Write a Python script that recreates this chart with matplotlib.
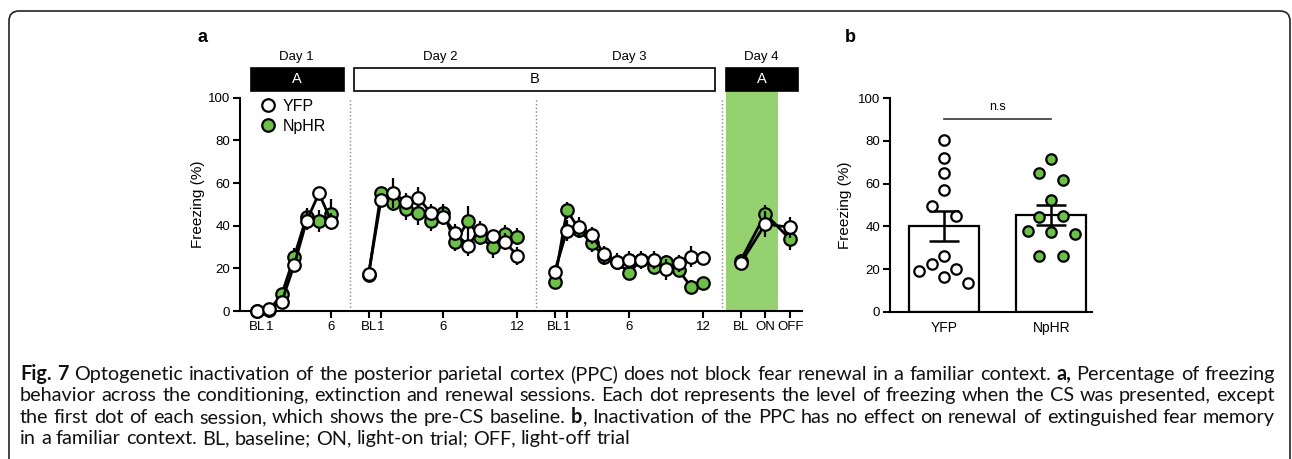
import numpy as np
import matplotlib
matplotlib.use('Agg')
import matplotlib.pyplot as plt
import matplotlib.transforms as mtransforms
from matplotlib import font_manager
from matplotlib.patches import Rectangle, FancyBboxPatch
from matplotlib.lines import Line2D

# ── Data: panel a (mean freezing % and SEM per trial, per session) ─────
session_names = ['Day 1', 'Day 2', 'Day 3', 'Day 4']
session_x = [np.arange(0, 7), np.arange(9, 22), np.arange(24, 37), np.array([39, 41, 43])]

yfp_mean = [
    [0, 0.8, 4.4, 21.6, 42.2, 55.2, 41.9],
    [17.3, 52, 55.2, 51.3, 53.1, 46.1, 44.2, 36.7, 30.6, 38, 35.2, 32.5, 25.8],
    [18.4, 37.7, 39.2, 35.6, 26.7, 23.1, 23.9, 23.9, 23.9, 19.5, 22.3, 25.5, 25],
    [22.3, 40.8, 39.2],
]
yfp_sem = [
    [0, 0.5, 1.5, 3, 4, 3, 4],
    [1, 2, 7, 4, 5, 4, 4, 4, 5, 4, 3, 4, 4],
    [3, 5, 5, 4, 4, 4, 4, 4, 4, 5, 4, 5, 3],
    [3, 6, 5],
]
nphr_mean = [
    [0, 0.5, 7.8, 25.5, 44.2, 42.2, 45.5],
    [16.9, 55.2, 50.8, 47.7, 46.1, 42.3, 46.1, 32.2, 42, 34.8, 29.8, 36.1, 34.8],
    [13.8, 47.3, 38, 31.7, 25.5, 23.1, 18, 23.9, 20.5, 23.1, 19.2, 11.4, 13.3],
    [23.6, 45.5, 33.6],
]
nphr_sem = [
    [0, 0.5, 2, 4, 4, 5, 7],
    [1, 3, 4, 5, 6, 5, 4, 4, 7, 4, 5, 4, 4],
    [2, 4, 4, 4, 4, 3, 3, 3, 3, 3, 3, 3, 2],
    [3, 4, 5],
]
tick_pos = [0, 1, 6, 9, 10, 15, 21, 24, 25, 30, 36, 39, 41, 43]
tick_labels = ['BL', '1', '6', 'BL', '1', '6', '12', 'BL', '1', '6', '12', 'BL', 'ON', 'OFF']

# ── Data: panel b (renewal, individual animals) ───────────────────────
groups = ['YFP', 'NpHR']
yfp_points = [80.5, 71.9, 64.8, 57.0, 49.7, 45.0, 26.3, 22.2, 19.2, 19.8, 16.1, 13.3]
nphr_points = [71.4, 64.8, 61.7, 52.3, 44.5, 45.0, 38.0, 37.5, 36.4, 26.0, 26.0]
group_mean = [40.3, 45.2]
group_sem = [7.0, 4.8]

# horizontal jitter of the dots (layout only)
yfp_jitter = [0, 0, 0, 0, -0.11, 0.11, 0, -0.11, -0.23, 0.11, 0, 0.22]
nphr_jitter = [0, -0.11, 0.11, 0, -0.11, 0.11, -0.22, 0, 0.22, -0.11, 0.11]

caption = [
    "**Fig. 7** Optogenetic inactivation of the posterior parietal cortex (PPC) does not block fear renewal in a familiar context. **a,** Percentage of freezing",
    "behavior across the conditioning, extinction and renewal sessions. Each dot represents the level of freezing when the CS was presented, except",
    "the first dot of each session, which shows the pre-CS baseline. **b**, Inactivation of the PPC has no effect on renewal of extinguished fear memory",
    "in a familiar context. BL, baseline; ON, light-on trial; OFF, light-off trial",
]

# ── Style ─────────────────────────────────────────────────────────────
GREEN = '#6cbf47'
BAND = '#95d26f'
plt.rcParams['font.family'] = ['Liberation Sans', 'DejaVu Sans']
avail = {f.name for f in font_manager.fontManager.ttflist}
CAP_FONT = 'DejaVu Sans'
for name in ['Lato', 'Open Sans', 'Liberation Sans Narrow', 'Roboto']:
    if name in avail:
        CAP_FONT = name
        break

W, H = 1292, 459
fig = plt.figure(figsize=(W / 100, H / 100), dpi=100)

# background axes in pixel units: frame + caption
bg = fig.add_axes([0, 0, 1, 1], zorder=-1)
bg.set_xlim(0, W)
bg.set_ylim(H, 0)
bg.axis('off')
bg.add_patch(FancyBboxPatch((9, 11), 1281, 480, boxstyle='round,pad=0,rounding_size=10',
                            fc='none', ec='#222222', lw=1.2, clip_on=False))

# ── Panel a ───────────────────────────────────────────────────────────
ax = fig.add_axes([240 / W, 1 - 311 / H, 561.7 / W, 213.3 / H])
trans = mtransforms.blended_transform_factory(ax.transData, ax.transAxes)

ax.add_patch(Rectangle((37.85, 0), 42.0 - 37.85, 1.031, transform=trans, fc=BAND, lw=0,
                       zorder=0, clip_on=False))
for xs in [7.5, 22.5, 37.5]:
    ax.axvline(xs, color='#888888', ls=':', lw=1, zorder=1)

for xs, m, s in zip(session_x, nphr_mean, nphr_sem):
    ax.errorbar(xs, m, yerr=s, fmt='none', ecolor='black', elinewidth=1.6, zorder=2, clip_on=False)
    ax.plot(xs, m, '-', color='black', lw=2, zorder=3)
    ax.plot(xs, m, 'o', ms=9, mfc=GREEN, mec='black', mew=1.6, zorder=4, clip_on=False)
for xs, m, s in zip(session_x, yfp_mean, yfp_sem):
    ax.errorbar(xs, m, yerr=s, fmt='none', ecolor='black', elinewidth=1.6, zorder=5, clip_on=False)
    ax.plot(xs, m, '-', color='black', lw=2, zorder=6)
    ax.plot(xs, m, 'o', ms=9, mfc='white', mec='black', mew=1.6, zorder=7, clip_on=False)

ax.set_xlim(-1.37, 43.93)
ax.set_ylim(0, 100)
ax.set_yticks(range(0, 101, 20))
ax.set_xticks(tick_pos)
ax.set_xticklabels(tick_labels)
ax.tick_params(labelsize=9.5, width=1.5, length=5, pad=2)
for sp in ['top', 'right']:
    ax.spines[sp].set_visible(False)
for sp in ['left', 'bottom']:
    ax.spines[sp].set_linewidth(1.5)
ax.set_ylabel('Freezing (%)', fontsize=11, labelpad=2)

# session boxes above the axes
boxes = [(-0.5, 7.0, 'black', 'A', 3.25), (7.8, 36.9, 'white', 'B', 22.4), (37.85, 43.6, 'black', 'A', 40.7)]
for x0, x1, fc, lab, lx in boxes:
    ax.add_patch(Rectangle((x0, 1.031), x1 - x0, 0.11, transform=trans, fc=fc, ec='black',
                           lw=1.2, clip_on=False))
    ax.text(lx, 1.086, lab, transform=trans, ha='center', va='center', fontsize=10.5,
            color='white' if fc == 'black' else 'black')
for name, lx in zip(session_names, [3.2, 14.8, 30.0, 40.7]):
    ax.text(lx, 1.19, name, transform=trans, ha='center', va='center', fontsize=9.5)

handles = [Line2D([], [], ls='none', marker='o', ms=9, mfc='white', mec='black', mew=1.6),
           Line2D([], [], ls='none', marker='o', ms=9, mfc=GREEN, mec='black', mew=1.6)]
ax.legend(handles, groups, loc='upper left', bbox_to_anchor=(0.035, 0.995), frameon=False,
          fontsize=11.5, handlelength=1.0, handletextpad=0.45, labelspacing=0.3,
          borderpad=0, borderaxespad=0)

# ── Panel b ───────────────────────────────────────────────────────────
ax2 = fig.add_axes([890 / W, 1 - 311.7 / H, (1092 - 890) / W, 213.4 / H])
bx = np.arange(len(groups))
ax2.bar(bx, group_mean, width=0.65, color='white', edgecolor='black', lw=1.6, zorder=1)
ax2.errorbar(bx, group_mean, yerr=group_sem, fmt='none', ecolor='black', elinewidth=1.8,
             capsize=11, capthick=1.8, zorder=2)
ax2.plot(bx[0] + np.array(yfp_jitter), yfp_points, 'o', ms=7.5, mfc='white', mec='black',
         mew=1.6, ls='none', zorder=3)
ax2.plot(bx[1] + np.array(nphr_jitter), nphr_points, 'o', ms=7.5, mfc=GREEN, mec='black',
         mew=1.6, ls='none', zorder=3)
ax2.plot([0, 1], [90.5, 90.5], color='#333333', lw=1.2)
ax2.text(0.5, 93, 'n.s', ha='center', va='bottom', fontsize=9)
ax2.set_xlim(-0.505, 1.38)
ax2.set_ylim(0, 100)
ax2.set_yticks(range(0, 101, 20))
ax2.set_xticks(bx)
ax2.set_xticklabels(groups)
ax2.tick_params(axis='y', labelsize=9.5, width=1.5, length=5, pad=2)
ax2.tick_params(axis='x', labelsize=10, length=0, pad=7)
for sp in ['top', 'right']:
    ax2.spines[sp].set_visible(False)
for sp in ['left', 'bottom']:
    ax2.spines[sp].set_linewidth(1.5)
ax2.set_ylabel('Freezing (%)', fontsize=11, labelpad=4)

fig.text(203 / W, 1 - 38 / H, 'a', fontsize=13, fontweight='bold', ha='center', va='center')
fig.text(850 / W, 1 - 37 / H, 'b', fontsize=13, fontweight='bold', ha='center', va='center')

# ── Caption: justified lines with bold runs ──────────────────────────
renderer = fig.canvas.get_renderer()
x_left, x_right = 20, 1275
baselines = [380, 401, 423, 444]


def text_width(s, size, weight='normal'):
    t = bg.text(0, 0, s, fontsize=size, family=CAP_FONT, fontweight=weight)
    w = t.get_window_extent(renderer).width
    t.remove()
    return w


# pick a size so the justified lines need only a little extra spacing
base = 12.0
natural = max(text_width(l.replace('**', ''), base) for l in caption[:3])
CAP_SIZE = min(16.0, base * (x_right - x_left) / natural * 0.99)


def tokens(line):
    out = []
    prev_ws = True
    for i, part in enumerate(line.split('**')):
        if not part:
            continue
        bold = i % 2 == 1
        lead_ws = part[0].isspace()
        for j, w in enumerate(part.split()):
            glue = j == 0 and not lead_ws and not prev_ws and len(out) > 0
            out.append((w, bold, glue))
        prev_ws = part[-1].isspace()
    return out


sw = text_width('a a', CAP_SIZE) - 2 * text_width('a', CAP_SIZE)
for li, (line, yb) in enumerate(zip(caption, baselines)):
    arts = []
    for w, bold, glue in tokens(line):
        t = bg.text(0, yb, w, fontsize=CAP_SIZE, family=CAP_FONT, color='#111111',
                    fontweight='bold' if bold else 'normal', va='baseline', ha='left')
        arts.append((t, t.get_window_extent(renderer).width, glue))
    n_gaps = sum(1 for a in arts[1:] if not a[2])
    total = sum(a[1] for a in arts)
    gap = (x_right - x_left - total) / n_gaps if li < len(caption) - 1 else sw
    x = x_left
    for k, (t, w, glue) in enumerate(arts):
        if k > 0 and not glue:
            x += gap
        t.set_x(x)
        x += w

fig.savefig('out.png', dpi=100)
